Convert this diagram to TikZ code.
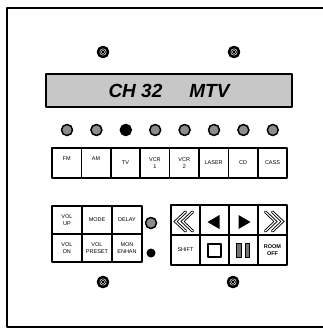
\documentclass[tikz,border=0pt]{standalone}
\usepackage{fontspec}
\setmainfont{Liberation Sans}
\usetikzlibrary{positioning}
\tikzset{
	key/.style={draw,line width=1.6pt,fill=white,outer sep=0pt,inner sep=0pt,
		minimum width=29.4pt,minimum height=30pt,align=center,
		font=\fontsize{5.5}{7}\selectfont},
	led/.style={circle,draw,line width=1.5pt,fill=black!45,minimum size=11pt,inner sep=0pt},
	display/.style={draw,line width=2.2pt,fill=black!22,minimum width=246pt,minimum height=33pt,
		font=\fontsize{19}{19}\selectfont\bfseries\itshape},
	screw/.pic={
		\draw[line width=2.6pt] (0,0) circle(5);
		\draw[line width=0.8pt] (0,0) circle(2.4);
		\draw[line width=0.9pt] (-1.3,-1.3)--(1.3,1.3) (-1.3,1.3)--(1.3,-1.3);
	},
	chev/.style={double,double distance=1.1pt,line width=0.9pt,line join=miter}
}
\begin{document}
\begin{tikzpicture}[x=1pt,y=-1pt,line join=round,line cap=round]
	\useasboundingbox (0,0) rectangle (323,329);
	%Vỏ
	\begin{scope}
		\clip (0,0) rectangle (323,329);
		\draw[line width=2.4pt,line cap=butt] (330,8)--(7,8)--(7,327)--(330,327);
	\end{scope}
	%Ốc vít
	\pic at (103,52) {screw};
	\pic at (234,52) {screw};
	\pic at (103,282) {screw};
	\pic at (233,282) {screw};
	%Màn hình
	\node[display] (lcd) at (169,90.5) {CH 32\hspace{27pt}MTV};
	%Đèn
	\foreach \i/\c in {0/black!45,1/black!45,2/black,3/black!45,4/black!45,5/black!45,6/black!45,7/black!45}
		\node[led,fill=\c] (led\i) at (67+29.4*\i,130) {};
	%Hàng phím nguồn
	\node[key] (fm) at (66.7,163) {\raisebox{9pt}{FM}};
	\node[key,right=0pt of fm] (am) {\raisebox{9pt}{AM}};
	\node[key,right=0pt of am] (tv) {TV};
	\node[key,right=0pt of tv] (vcra) {VCR\\1};
	\node[key,right=0pt of vcra] (vcrb) {VCR\\2};
	\node[key,right=0pt of vcrb] (laser) {LASER};
	\node[key,right=0pt of laser] (cd) {CD};
	\node[key,right=0pt of cd] (cass) {CASS};
	%Khối trái
	\begin{scope}[every node/.style={key,minimum width=30pt,minimum height=28pt}]
		\node (volup) at (67,220) {VOL\\UP};
		\node[right=0pt of volup] (mode) {MODE};
		\node[right=0pt of mode] (delay) {DELAY};
		\node[below=0pt of volup] (voldn) {VOL\\DN};
		\node[right=0pt of voldn] (volpreset) {VOL\\PRESET};
		\node[right=0pt of volpreset] (monenhan) {MON\\ENHAN};
	\end{scope}
	\node[led] (ledA) at (151,223) {};
	\node[circle,fill=black,minimum size=9pt,inner sep=0pt] (ledB) at (151,253) {};
	%Khối phải
	\begin{scope}[every node/.style={key,minimum width=29pt,minimum height=30pt}]
		\node (rew) at (185.5,220) {};
		\node[right=0pt of rew] (back) {};
		\node[right=0pt of back] (fwd) {};
		\node[right=0pt of fwd] (ffwd) {};
		\node[below=0pt of rew] (shift) {SHIFT};
		\node[right=0pt of shift] (stop) {};
		\node[right=0pt of stop] (pause) {};
		\node[right=0pt of pause,font=\fontsize{5.5}{7}\selectfont\bfseries] (roomoff) {ROOM\\OFF};
	\end{scope}
	\begin{scope}[shift={(rew.center)}]
		\draw[chev] (0,-8)--(-10,1.5)--(0,11) (7,-8)--(-3,1.5)--(7,11);
	\end{scope}
	\begin{scope}[shift={(ffwd.center)}]
		\draw[chev] (0,-8)--(10,1.5)--(0,11) (-7,-8)--(3,1.5)--(-7,11);
	\end{scope}
	\fill ([shift={(-7,2)}]back.center)--([shift={(5,-5)}]back.center)--([shift={(5,9)}]back.center)--cycle;
	\fill ([shift={(7,2)}]fwd.center)--([shift={(-5,-5)}]fwd.center)--([shift={(-5,9)}]fwd.center)--cycle;
	\draw[line width=1.5pt] ([shift={(-6.5,-6)}]stop.center) rectangle ([shift={(6.5,7)}]stop.center);
	\draw[line width=0.9pt,fill=black!55]
		([shift={(-7,-6.5)}]pause.center) rectangle ([shift={(-2.5,7.5)}]pause.center)
		([shift={(1.5,-6.5)}]pause.center) rectangle ([shift={(6,7.5)}]pause.center);
\end{tikzpicture}
\end{document}
